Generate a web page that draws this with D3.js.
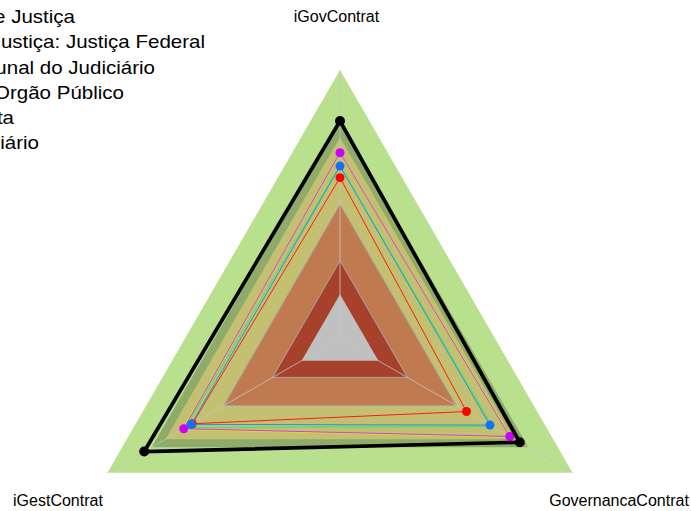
<!DOCTYPE html>
<html>
<head>
<meta charset="utf-8">
<script src="https://cdn.jsdelivr.net/npm/d3@7"></script>
<style>
  html, body { margin: 0; padding: 0; background: #ffffff; }
  svg { display: block; }
  text { font-family: "Liberation Sans", Arial, sans-serif; fill: #000; }
</style>
</head>
<body>
<svg id="chart" width="691" height="511"></svg>
<script>
// Radar axes (counter-clockwise from the top)
const axes = ["iGovContrat", "iGestContrat", "GovernancaContrat"];

// Reference bands (outer radius of each filled triangle, 0..1)
const bandLevels = [1.0, 0.81, 0.75, 0.5, 0.29, 0.165];
const bandColors = ["#b9e08c", "#8fab69", "#c3c071", "#c07a4f", "#a7412b", "#c0c0c0"];
const edgeLevels = [0.29, 0.5];

// Series
const seriesNames = [
  "Segmento de Justiça",
  "Segmento de Justiça: Justiça Federal",
  "Tribunal do Judiciário",
  "Seu Orgão Público",
  "Meta",
  "Judiciário"
];
const redValues     = [0.599, 0.635, 0.544];
const blueValues    = [0.642, 0.640, 0.645];
const magentaValues = [0.692, 0.672, 0.730];
const blackValues   = [0.810, 0.842, 0.773];
const greenValues   = [0.645, 0.664, 0.655];
const yellowValues  = [0.690, 0.678, 0.735];

const seriesValues = [redValues, blueValues, magentaValues, blackValues, greenValues, yellowValues];
const lineColors   = ["#ff1a1a", "#1a9ad6", "#d040e8", "#000000", "#40e080", "#e0e020"];
const pointColors  = ["#ff0000", "#1070ff", "#cc00ff", "#000000", null, null];
const lineWidths   = [1, 1, 1, 3.7, 1, 1];
const pointRadii   = [4.5, 4.5, 4.5, 5, 0, 0];
// drawing order: later items sit on top
const drawOrder = [5, 4, 0, 2, 1, 3];

const svg = d3.select("#chart");
const cx = 340, cy = 338.5, R = 268.5;
const r = d3.scaleLinear().domain([0, 1]).range([0, R]);
const angle = d3.scaleLinear().domain([0, axes.length]).range([0, -2 * Math.PI]);

const g = svg.append("g").attr("transform", `translate(${cx},${cy})`);

const ring = lvl => axes.map((_, i) => [angle(i), r(lvl)]);
const radial = d3.lineRadial().curve(d3.curveLinearClosed);

// filled bands
g.selectAll("path.band")
  .data(bandLevels)
  .join("path")
  .attr("class", "band")
  .attr("d", (d) => radial(ring(d)))
  .attr("fill", (d, i) => bandColors[i])
  .attr("stroke", "none");

// band edges
g.selectAll("path.edge")
  .data(edgeLevels)
  .join("path")
  .attr("class", "edge")
  .attr("d", d => radial(ring(d)))
  .attr("fill", "none")
  .attr("stroke", "#a5a5a5")
  .attr("stroke-width", 1);

// axis spokes
const pt = (i, v) => [r(v) * Math.sin(angle(i)), -r(v) * Math.cos(angle(i))];
g.selectAll("line.axis")
  .data(axes)
  .join("line")
  .attr("class", "axis")
  .attr("x1", 0).attr("y1", 0)
  .attr("x2", (d, i) => pt(i, 1)[0])
  .attr("y2", (d, i) => pt(i, 1)[1])
  .attr("stroke", "#c4c4c4")
  .attr("stroke-opacity", 0.8)
  .attr("stroke-width", 1);

// series
drawOrder.forEach(s => {
  const vals = seriesValues[s];
  g.append("path")
    .attr("d", radial(vals.map((v, i) => [angle(i), r(v)])))
    .attr("fill", "none")
    .attr("stroke", lineColors[s])
    .attr("stroke-width", lineWidths[s])
    .attr("stroke-linejoin", "round");
  if (pointColors[s]) {
    g.selectAll(null)
      .data(vals)
      .join("circle")
      .attr("cx", (v, i) => pt(i, v)[0])
      .attr("cy", (v, i) => pt(i, v)[1])
      .attr("r", pointRadii[s])
      .attr("fill", pointColors[s]);
  }
});

// axis labels
const labelNudge = [-3.5, -3, 0];
g.selectAll("text.lab")
  .data(axes)
  .join("text")
  .attr("class", "lab")
  .attr("x", (d, i) => pt(i, 1.2)[0] + labelNudge[i])
  .attr("y", (d, i) => pt(i, 1.2)[1] + (i === 0 ? 5.5 : 6.5))
  .attr("text-anchor", "middle")
  .attr("font-size", 16)
  .text(d => d);

// legend: right-aligned ends, block runs past the left edge
const legendEnds = [75, 205, 155, 124, 14, 39];
const sx = 1.14;
const legend = svg.append("g").attr("transform", `scale(${sx},1)`);
seriesNames.forEach((name, i) => {
  const y = 23 + i * 25.3;
  const t = legend.append("text")
    .attr("x", legendEnds[i] / sx)
    .attr("y", y)
    .attr("text-anchor", "end")
    .attr("font-size", 18)
    .text(name);
  const w = t.node().getComputedTextLength();
  const x0 = legendEnds[i] / sx - w;
  legend.append("line")
    .attr("x1", x0 - 40).attr("x2", x0 - 10)
    .attr("y1", y - 6).attr("y2", y - 6)
    .attr("stroke", lineColors[i])
    .attr("stroke-width", lineWidths[i]);
});
</script>
</body>
</html>
